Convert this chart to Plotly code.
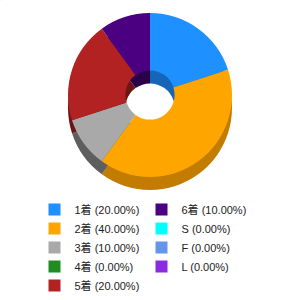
import plotly.graph_objects as go

labels = ["1着", "2着", "3着", "4着", "5着", "6着", "S", "F", "L"]
values = [20, 40, 10, 0, 20, 10, 0, 0, 0]
colors = ["#1E90FF", "#FFA500", "#A9A9A9", "#228B22", "#B22222",
          "#4B0082", "#00FFFF", "#6495ED", "#8A2BE2"]
side_colors = ["#1565B8", "#C27C00", "#5E5E5E", "#145214", "#6E1414",
               "#2A0048", "#00A0A0", "#3E5F9A", "#561B8E"]

total = sum(values)
legend_text = [f"{l} ({v / total * 100:.2f}%)" for l, v in zip(labels, values)]

# legend order: column-major for two columns
order = [0, 5, 1, 6, 2, 7, 3, 8, 4]

fig = go.Figure()

# tiny pie only used to define legend entries/order
fig.add_trace(go.Pie(
    labels=[legend_text[i] for i in order],
    values=[1] * len(order),
    marker=dict(colors=[colors[i] for i in order], line=dict(width=0)),
    sort=False, textinfo="none", hoverinfo="skip",
    domain=dict(x=[0, 0.001], y=[0.999, 1]),
    showlegend=True,
))

# side (depth) of the 3D donut
fig.add_trace(go.Pie(
    labels=legend_text, values=values,
    marker=dict(colors=side_colors, line=dict(width=0)),
    sort=False, direction="clockwise", rotation=0, hole=0.3,
    textinfo="none", hoverinfo="skip",
    domain=dict(x=[0, 1], y=[110 / 300, 274 / 300]),
    showlegend=False,
))

# top face
fig.add_trace(go.Pie(
    labels=legend_text, values=values,
    marker=dict(colors=colors, line=dict(width=0)),
    sort=False, direction="clockwise", rotation=0, hole=0.3,
    textinfo="none",
    domain=dict(x=[0, 1], y=[123 / 300, 287 / 300]),
    showlegend=False,
))

fig.update_layout(
    width=300, height=300,
    margin=dict(l=0, r=0, t=0, b=0),
    paper_bgcolor="white", plot_bgcolor="white",
    legend=dict(
        orientation="h", x=0.115, xanchor="left", y=0.0, yanchor="bottom",
        entrywidth=62, entrywidthmode="pixels",
        font=dict(family="Liberation Sans, Noto Sans CJK JP", size=11, color="#222"),
        itemclick=False, itemdoubleclick=False,
    ),
)

fig.write_html("out.html")
